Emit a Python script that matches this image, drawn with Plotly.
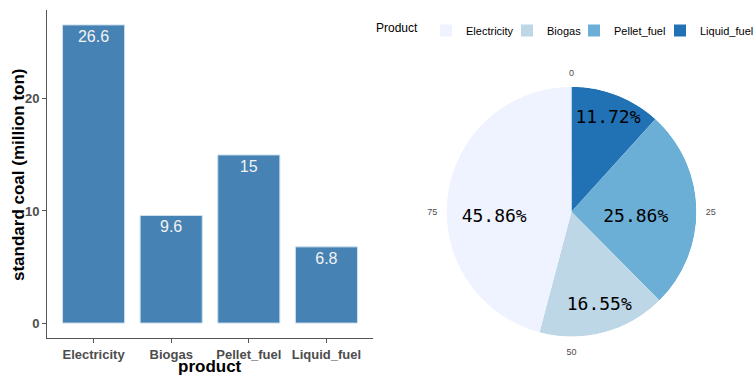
import plotly.graph_objects as go

# ---------------- data ----------------
products = ["Electricity", "Biogas", "Pellet_fuel", "Liquid_fuel"]
coal_values = [26.6, 9.6, 15, 6.8]
pie_order = ["Liquid_fuel", "Pellet_fuel", "Biogas", "Electricity"]
pie_shares = [11.72, 25.86, 16.55, 45.86]
pie_labels = ["11.72%", "25.86%", "16.55%", "45.86%"]
angular_tickvals_pct = [0, 25, 50, 75]
y_ticks = [0, 10, 20]
x_title = "product"
y_title = "standard coal (million ton)"
legend_title = "Product"

# ---------------- style ----------------
colors = {"Electricity": "#EFF3FF", "Biogas": "#BDD7E7",
          "Pellet_fuel": "#6BAED6", "Liquid_fuel": "#2171B5"}
label_radius = [0.80, 0.516, 0.78, 0.62]
label_dtheta = [0.3, 6.0, -1.6, -11.4]
legend_ids = ["legend", "legend2", "legend3", "legend4"]
legend_x_px = [374, 507, 574, 660]
W, H = 754, 376
FONT = "Liberation Sans, Arial, sans-serif"

fig = go.Figure()

# bar chart
fig.add_trace(go.Bar(
    x=products, y=coal_values, text=[str(v) for v in coal_values],
    textposition="inside", insidetextanchor="end",
    textfont=dict(color="#f2f2f2", size=16, family=FONT),
    marker=dict(color="#4682B4", line=dict(color="#cfe0ef", width=1)),
    width=0.8, showlegend=False, xaxis="x", yaxis="y", cliponaxis=False,
))

# pie chart drawn as barpolar
cum = 0.0
centers = []
for name, share in zip(pie_order, pie_shares):
    theta_c = (cum + share / 2) * 3.6
    centers.append(theta_c)
    fig.add_trace(go.Barpolar(
        r=[1], theta=[theta_c], width=[share * 3.6], name=name,
        marker=dict(color=colors[name], line=dict(width=0)),
        subplot="polar", showlegend=False,
    ))
    cum += share

# legend entries (one small legend box per product, laid out in a row)
for name, lid in zip(products, legend_ids):
    fig.add_trace(go.Barpolar(
        r=[0], theta=[0], width=[0], name=name,
        marker=dict(color=colors[name], line=dict(width=0)),
        subplot="polar", showlegend=True, legend=lid,
    ))

fig.add_trace(go.Scatterpolar(
    r=label_radius, theta=[c + d for c, d in zip(centers, label_dtheta)],
    text=pie_labels, mode="text",
    textfont=dict(size=18, color="black", family="DejaVu Sans Mono, monospace"),
    subplot="polar", showlegend=False,
))

legend_layouts = {}
for i, (lid, xpx) in enumerate(zip(legend_ids, legend_x_px)):
    cfg = dict(
        orientation="h", x=xpx / W, y=1 - 16 / H, xanchor="left", yanchor="top",
        font=dict(size=11, color="black"), bgcolor="rgba(0,0,0,0)",
        itemwidth=30, tracegroupgap=0,
    )
    if i == 0:
        cfg["title"] = dict(text=legend_title, font=dict(size=12, color="black"))
    legend_layouts[lid] = cfg

fig.update_layout(
    width=W, height=H,
    margin=dict(l=0, r=0, t=0, b=0, autoexpand=False),
    paper_bgcolor="white", plot_bgcolor="white",
    font=dict(family=FONT),
    xaxis=dict(
        domain=[47 / W, 373 / W], range=[-0.6, 3.6], tickangle=0,
        showline=True, linecolor="#555555", linewidth=1,
        ticks="outside", ticklen=4, tickcolor="#555555",
        tickfont=dict(size=13, color="#4d4d4d", family=FONT, weight="bold"),
        showgrid=False, zeroline=False,
    ),
    yaxis=dict(
        domain=[1 - 338 / H, 1 - 10 / H], range=[-1.33, 27.93],
        tickvals=y_ticks,
        showline=True, linecolor="#555555", linewidth=1,
        ticks="outside", ticklen=4, tickcolor="#555555",
        tickfont=dict(size=13, color="#4d4d4d", family=FONT, weight="bold"),
        showgrid=False, zeroline=False,
    ),
    polar=dict(
        domain=dict(x=[446.5 / W, 696.5 / W], y=[1 - 336.7 / H, 1 - 86.7 / H]),
        bgcolor="white",
        bargap=0,
        radialaxis=dict(visible=False, range=[0, 1]),
        angularaxis=dict(
            rotation=90, direction="clockwise",
            tickvals=[v * 3.6 for v in angular_tickvals_pct],
            ticktext=[str(v) for v in angular_tickvals_pct],
            showgrid=False, showline=False,
            ticks="outside", ticklen=7, tickcolor="rgba(0,0,0,0)",
            tickfont=dict(size=9, color="#4d4d4d"),
        ),
    ),
    annotations=[
        dict(text=x_title, xref="paper", yref="paper",
             x=210 / W, y=1 - 366.3 / H, xanchor="center", yanchor="middle",
             showarrow=False, font=dict(size=17, color="black", family=FONT, weight="bold")),
        dict(text=y_title, xref="paper", yref="paper", textangle=-90,
             x=18 / W, y=1 - 175 / H, xanchor="center", yanchor="middle",
             showarrow=False, font=dict(size=17, color="black", family=FONT, weight="bold")),
    ],
    **legend_layouts,
)

fig.write_html("out.html", post_script="document.body.style.margin='0';",
               config={"displayModeBar": False})
